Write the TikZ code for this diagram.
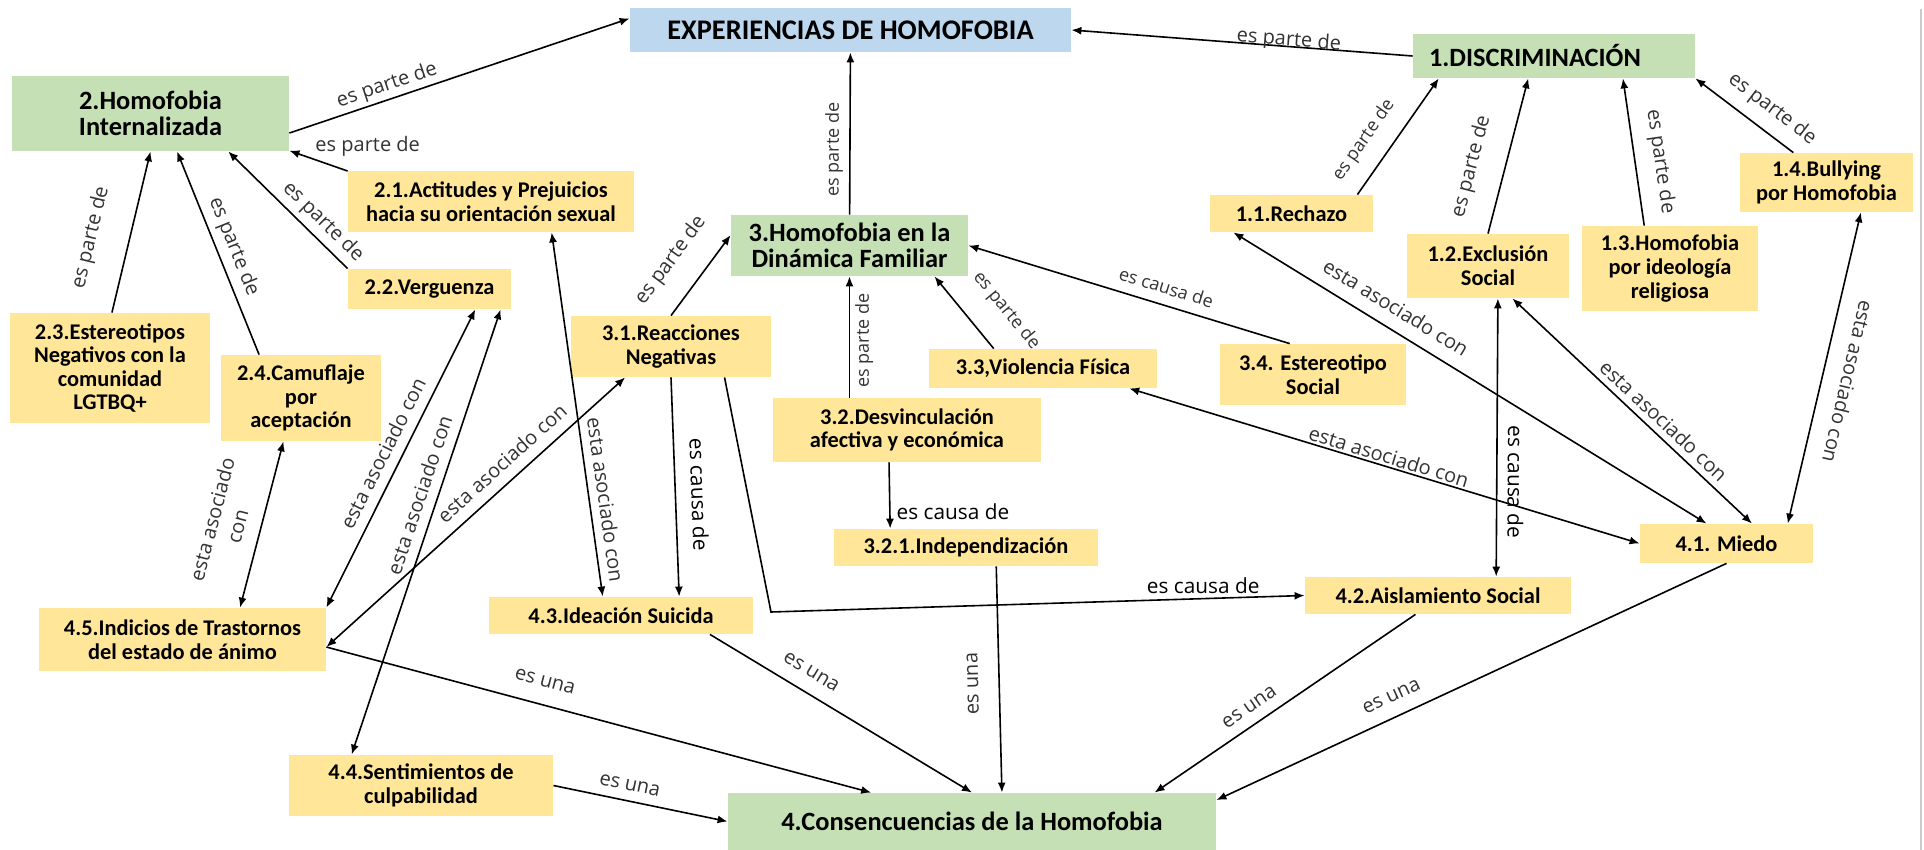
\documentclass[tikz,border=0pt]{standalone}
\usepackage{fontspec}
\setmainfont{Carlito}
\newfontfamily\lblfont{Open Sans}
\usetikzlibrary{arrows.meta}
\definecolor{grnfill}{HTML}{C5E0B4}
\definecolor{ylwfill}{HTML}{FFE699}
\definecolor{blufill}{HTML}{BDD7EE}
\tikzset{
  box/.style={
      rectangle,
      inner sep=0pt,
      align=center
    },
  sz/.style 2 args={
      minimum width=#1*0.5pt,
      minimum height=#2*0.5pt
    },
  ttl/.style={
      box,
      fill=blufill,
      font=\fontsize{14.2}{15}\selectfont\bfseries
    },
  grn/.style={
      box,
      fill=grnfill,
      font=\fontsize{13.2}{12.9}\selectfont\bfseries
    },
  ylw/.style={
      box,
      fill=ylwfill,
      font=\fontsize{11.2}{11.8}\selectfont\bfseries
    },
  lbl/.style={
      font=\lblfont\fontsize{10}{11}\selectfont,
      text=black!80,
      inner sep=1pt,
      sloped
    },
  lblsm/.style={
      lbl,
      font=\lblfont\fontsize{9}{10}\selectfont
    },
  lblbk/.style={
      lbl,
      font=\lblfont\fontsize{10.4}{11}\selectfont,
      text=black
    },
  arr/.style={
      -{Latex[length=5pt,width=4pt]},
      line width=0.8pt
    },
  darr/.style={
      {Latex[length=5pt,width=4pt]}-{Latex[length=5pt,width=4pt]},
      line width=0.8pt
    }
}
\begin{document}
\begin{tikzpicture}[x=0.5pt, y=-0.5pt]
  \useasboundingbox (0,0) rectangle (1924,850);
  \draw[gray!40, line width=1.2pt] (1921,9) -- (1921,850);

  \node[ttl, sz={441}{44}] (exp) at (850.5,30) {EXPERIENCIAS DE HOMOFOBIA};
  \node[grn, sz={282}{44}, align=left, text width=125pt, inner xsep=8pt] (d1) at (1554,56) {1.DISCRIMINACIÓN};
  \node[grn, sz={277}{75}] (h2) at (150.5,113.5) {2.Homofobia\\Internalizada};
  \node[grn, sz={237}{61}] (h3) at (849.5,245.5) {3.Homofobia en la\\Dinámica Familiar};
  \node[grn, sz={488}{57}] (h4) at (972,821.5) {4.Consencuencias de la Homofobia};

  \node[ylw, sz={163}{37}] (d11) at (1291.5,213.5) {1.1.Rechazo};
  \node[ylw, sz={162}{64}] (d12) at (1488,266) {1.2.Exclusión\\Social};
  \node[ylw, sz={176}{85}] (d13) at (1670,268.5) {1.3.Homofobia\\por ideología\\religiosa};
  \node[ylw, sz={173}{59}] (d14) at (1826.5,182.5) {1.4.Bullying\\por Homofobia};

  \node[ylw, sz={286}{61}] (a21) at (491,201.5) {2.1.Actitudes y Prejuicios\\hacia su orientación sexual};
  \node[ylw, sz={163}{40}] (a22) at (429.5,289) {2.2.Verguenza};
  \node[ylw, sz={200}{110}] (a23) at (110,368) {2.3.Estereotipos\\Negativos con la\\comunidad\\LGTBQ+};
  \node[ylw, sz={160}{86}] (a24) at (301,398) {2.4.Camuflaje\\por\\aceptación};

  \node[ylw, sz={200}{61}] (r31) at (671,346.5) {3.1.Reacciones\\Negativas};
  \node[ylw, sz={268}{64}] (r32) at (907,430) {3.2.Desvinculación\\afectiva y económica};
  \node[ylw, sz={228}{39}] (r33) at (1043,368.5) {3.3,Violencia Física};
  \node[ylw, sz={186}{61}] (r34) at (1313,374.5) {3.4. Estereotipo\\Social};
  \node[ylw, sz={264}{37}] (r321) at (966,547.5) {3.2.1.Independización};

  \node[ylw, sz={173}{39}] (c41) at (1726.5,543.5) {4.1. Miedo};
  \node[ylw, sz={266}{37}] (c42) at (1438,595.5) {4.2.Aislamiento Social};
  \node[ylw, sz={264}{37}] (c43) at (621,615.5) {4.3.Ideación Suicida};
  \node[ylw, sz={264}{61}] (c44) at (421,785.5) {4.4.Sentimientos de\\culpabilidad};
  \node[ylw, sz={287}{63}] (c45) at (182.5,639.5) {4.5.Indicios de Trastornos\\del estado de ánimo};

  \coordinate (k1) at (771,612);

  \draw[arr] (d1.west) -- node[lbl, pos=0.364, above=-3.5pt] {es parte de} (exp.east);
  \draw[arr] (h2.-8) -- node[lbl, pos=0.3, above=0.5pt] {es parte de} (exp.177);
  \draw[arr] (h3) -- node[lblsm, pos=0.4, above=2pt] {es parte de} (exp);

  \draw[arr] (d11.16) -- node[lblsm, pos=0.34, above=7pt] {es parte de} (d1.-169);
  \draw[arr] (d12.north) -- node[lbl, pos=0.38, above=10pt] {es parte de} (d1.-139);
  \draw[arr] (d13.121) -- node[lbl, pos=0.41, above=6pt] {es parte de} (d1.-18);
  \draw[arr] (d14.138) -- node[lbl, pos=0.35, above=4.5pt] {es parte de} (d1.south east);

  \draw[arr] (a21.168) -- node[lbl, sloped=false, pos=0.6, above right] {es parte de} (h2.-15);
  \draw[arr] (a22.north west) -- node[lbl, pos=0.3, above=1.7pt] {es parte de} (h2.-26);
  \draw[arr] (a23.88) -- node[lbl, pos=0.41, above=12.5pt] {es parte de} (h2.south);
  \draw[arr] (a24.134) -- node[lbl, pos=0.5, above=2pt] {es parte de} (h2.-55);

  \draw[arr] (r31.north) -- node[lbl, pos=0.44, above=10pt] {es parte de} (h3.175);
  \draw[arr] (h3.south |- r32.north) -- node[lblsm, pos=0.47, below=1.5pt] {es parte de} (h3.south);
  \draw[arr] (r33.158) -- node[lblsm, pos=0.23, above=11pt] {es parte de} (h3.-20);
  \draw[arr] (r34.127) -- node[lblsm, pos=0.4, above=4pt] {es causa de} (h3.east);

  \draw[darr] (d11.-162) -- node[lbl, pos=0.32, above=5.5pt] {esta asociado con} (c41.135);
  \draw[darr] (d12.-53) -- node[lbl, pos=0.59, above=2pt] {esta asociado con} (c41.38);
  \draw[darr] (d14.-41) -- node[lbl, allow upside down, pos=0.525, above=8pt] {esta asociado con} (c41.18);
  \draw[darr] (r33.-13) -- node[lbl, pos=0.503, above] {esta asociado con} (c41.west);
  \draw[darr] (d12.-73) -- node[lblbk, allow upside down, pos=0.66, above=4pt] {es causa de} (c42.18);

  \draw[arr] (r31.-30) -- (k1) -- node[lblbk, sloped=false, pos=0.81, above=1pt] {es causa de} (c42.west);
  \draw[arr] (r31.south) -- node[lblbk, pos=0.54, above=6.5pt] {es causa de} (c43.18);
  \draw[arr] (r32.-119) -- node[lblbk, sloped=false, pos=0.75, right=2pt] {es causa de} (r321.166);

  \draw[darr] (a24.-112) -- node[lbl, align=center, pos=0.545, above=6.5pt] {esta asociado\\[2pt]con} (c45.29);
  \draw[darr] (a22.-24) -- node[lbl, pos=0.51, above=4pt] {esta asociado con} (c45.north east);
  \draw[darr] (a22.-16) -- node[lbl, pos=0.43, above=3.8pt] {esta asociado con} (c44.156);
  \draw[darr] (r31.-146) -- node[lbl, pos=0.37, above=4.3pt] {esta asociado con} (c45.-3);
  \draw[darr] (a21.-27) -- node[lbl, pos=0.74, above=3pt] {esta asociado con} (c43.134);

  \draw[arr] (r321.-32) -- node[lbl, rotate=180, pos=0.515, above=9pt] {es una} (h4.44);
  \draw[arr] (c43.-12) -- node[lbl, pos=0.347, above=6pt] {es una} (h4.north);
  \draw[arr] (c45.-3) -- node[lbl, pos=0.39, above=7.5pt] {es una} (h4.164);
  \draw[arr] (c44.east) -- node[lbl, pos=0.42, above=3.8pt] {es una} (h4.west);
  \draw[arr] (c42.-140) -- node[lbl, pos=0.6, above=4.3pt] {es una} (h4.9);
  \draw[arr] (c41.south) -- node[lbl, pos=0.64, above=6pt] {es una} (h4.5);
\end{tikzpicture}
\end{document}
